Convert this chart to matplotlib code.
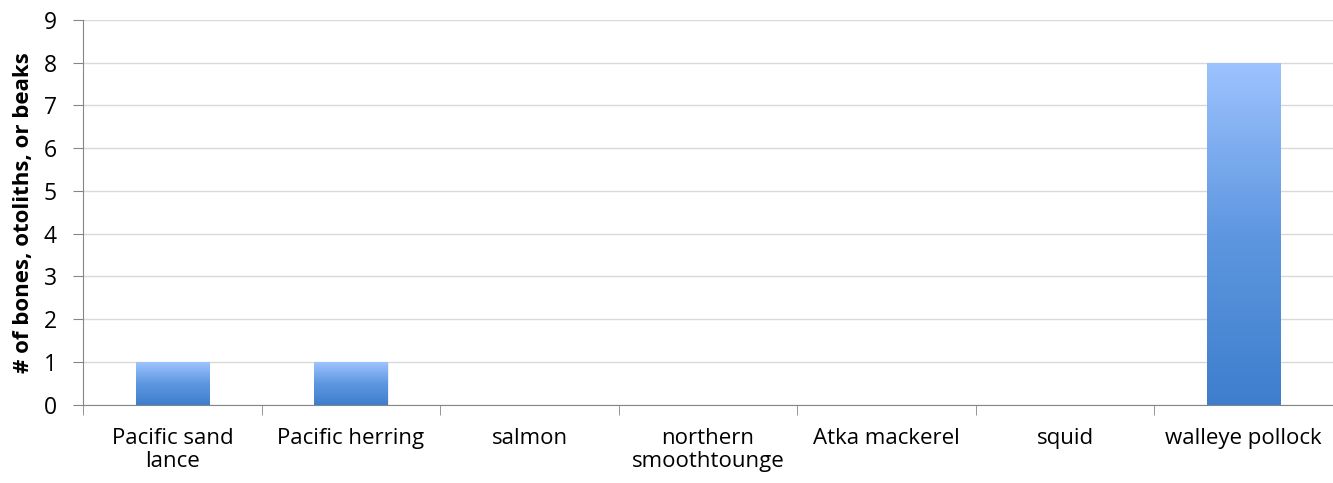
import numpy as np
import matplotlib.pyplot as plt
from matplotlib.colors import LinearSegmentedColormap

categories = ["Pacific sand\nlance", "Pacific herring", "salmon", "northern\nsmoothtounge",
              "Atka mackerel", "squid", "walleye pollock"]
counts = [1, 1, 0, 0, 0, 0, 8]

plt.rcParams['font.family'] = ['Open Sans', 'DejaVu Sans']

fig = plt.figure(figsize=(13.33, 4.83), dpi=100)
ax = fig.add_axes([0.0623, 0.162, 0.9377, 0.797])

x = np.arange(len(categories))
bars = ax.bar(x, counts, width=0.41, color='none', zorder=3)

# vertical gradient fill, dark at the base, light at the top of each bar
grad = LinearSegmentedColormap.from_list('bar', ['#3E7ECD', '#5E97E0', '#9DC3FF'])
g = np.linspace(0, 1, 256).reshape(-1, 1)
for b in bars:
    h = b.get_height()
    if h <= 0:
        continue
    x0, w = b.get_x(), b.get_width()
    # soft drop shadow
    ax.add_patch(plt.Rectangle((x0 + 0.006, -0.03), w, h, color='#000000', alpha=0.07,
                               zorder=2, lw=0))
    im = ax.imshow(g, cmap=grad, origin='lower', aspect='auto',
                   extent=(x0, x0 + w, 0, h), zorder=3)
    im.set_clip_path(b)

ax.set_xlim(-0.5, len(categories) - 0.5)
ax.set_ylim(0, 9)
ax.set_yticks(range(0, 10))
ax.yaxis.grid(True, color='#D9D9D9', lw=1)
ax.set_axisbelow(True)

ax.set_xticks(x)
ax.set_xticklabels(categories, fontsize=16, linespacing=1.1)
ax.set_xticks(np.arange(-0.5, len(categories)), minor=True)
ax.tick_params(axis='x', which='major', length=0, pad=17)
ax.tick_params(axis='x', which='minor', length=7, color='#868686', direction='out')
ax.tick_params(axis='y', length=7, color='#868686', labelsize=16.5, pad=12)

for s in ['top', 'right']:
    ax.spines[s].set_visible(False)
for s in ['left', 'bottom']:
    ax.spines[s].set_color('#868686')

ax.set_ylabel('# of bones, otoliths, or beaks', fontsize=16, fontweight='bold', labelpad=7)

fig.savefig('out.png', dpi=100)
